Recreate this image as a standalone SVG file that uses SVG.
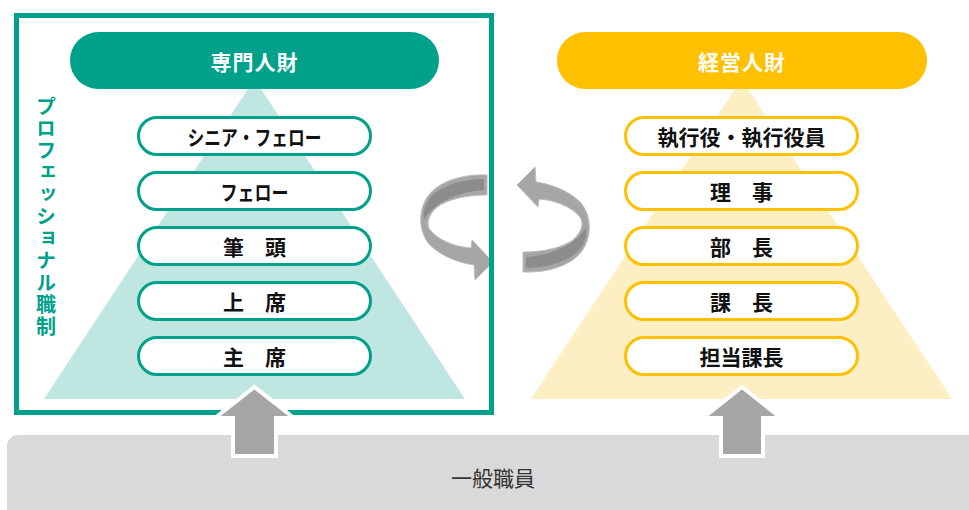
<svg xmlns="http://www.w3.org/2000/svg" width="969" height="510" viewBox="0 0 969 510">
<defs>
<style>
.hdr{font-family:"Noto Sans CJK JP","Noto Sans",sans-serif;font-weight:700;font-size:21px;fill:#ffffff;text-anchor:middle;dominant-baseline:central;letter-spacing:1px}
.lbl{font-family:"Noto Sans CJK JP","Noto Sans",sans-serif;font-weight:700;font-size:21px;fill:#111111;text-anchor:middle;dominant-baseline:central}
.gp{fill:#ffffff;stroke:#00a18b;stroke-width:3}
.yp{fill:#ffffff;stroke:#ffc000;stroke-width:3}
.up{fill:#a6a6a6;stroke:#ffffff;stroke-width:4;stroke-linejoin:miter}
.rib{fill:#a6a6a6;stroke:#bdbdbd;stroke-width:1}
.ribd{fill:#8c8c8c}
</style>
<g id="curl">
<path class="rib" d="M487,175 C465,174 440,180 428,196 C418,210 418,232 430,245 C442,257 460,263 474,265 L475,280 L493,262 L472,240 L471,248 C455,247 438,240 430,230 C425,222 430,212 440,205 C455,197 472,195 487,195 Z"/>
<path class="ribd" d="M484,179 C462,179 440,186 430,198 C424,206 423,214 424,220 C428,212 436,205 446,200 C460,193 472,191 484,190 Z"/>
</g>
</defs>
<rect id="base-band" x="7" y="435" width="985" height="100" rx="11" fill="#d9d9d9"/>
<text x="493" y="477" font-family="'Noto Sans CJK JP','Noto Sans',sans-serif" font-size="21" fill="#333333" text-anchor="middle" dominant-baseline="central">一般職員</text>

<polygon id="tri-left" points="254.5,79 465,399 44,399" fill="#c0e6e1"/>
<polygon id="tri-right" points="741.5,79 952,399 531,399" fill="#feeec3"/>

<g id="connectors">
<use href="#curl"/>
<use href="#curl" transform="rotate(180 505 223.5)"/>
</g>

<rect id="frame" x="16.5" y="15.5" width="475" height="397" fill="none" stroke="#00a18b" stroke-width="5"/>

<g id="hdr-senmon">
<rect x="70" y="32" width="369" height="57" rx="28.5" fill="#00a18b"/>
<text class="hdr" x="254.5" y="61">専門人財</text>
</g>
<g id="hdr-keiei">
<rect x="557" y="32" width="370" height="57" rx="28.5" fill="#ffc000"/>
<text class="hdr" x="742" y="61">経営人財</text>
</g>

<text id="vlabel" x="46" y="96" writing-mode="vertical-rl" font-family="'Noto Sans CJK JP','Noto Sans',sans-serif" font-weight="700" font-size="20" letter-spacing="2" fill="#00a18b">プロフェッショナル職制</text>

<g id="g1"><rect class="gp" x="138.5" y="117.5" width="232" height="37" rx="18.5"/><text class="lbl" x="254.5" y="136" textLength="134" lengthAdjust="spacingAndGlyphs">シニア・フェロー</text></g>
<g id="g2"><rect class="gp" x="138.5" y="172.5" width="232" height="37" rx="18.5"/><text class="lbl" x="254.5" y="191" textLength="68" lengthAdjust="spacingAndGlyphs">フェロー</text></g>
<g id="g3"><rect class="gp" x="138.5" y="227.5" width="232" height="37" rx="18.5"/><text class="lbl" x="254.5" y="246">筆　頭</text></g>
<g id="g4"><rect class="gp" x="138.5" y="282.5" width="232" height="37" rx="18.5"/><text class="lbl" x="254.5" y="301">上　席</text></g>
<g id="g5"><rect class="gp" x="138.5" y="337.5" width="232" height="37" rx="18.5"/><text class="lbl" x="254.5" y="356">主　席</text></g>

<g id="y1"><rect class="yp" x="625.5" y="117.5" width="232" height="37" rx="18.5"/><text class="lbl" x="741.5" y="136">執行役・執行役員</text></g>
<g id="y2"><rect class="yp" x="625.5" y="172.5" width="232" height="37" rx="18.5"/><text class="lbl" x="741.5" y="191">理　事</text></g>
<g id="y3"><rect class="yp" x="625.5" y="227.5" width="232" height="37" rx="18.5"/><text class="lbl" x="741.5" y="246">部　長</text></g>
<g id="y4"><rect class="yp" x="625.5" y="282.5" width="232" height="37" rx="18.5"/><text class="lbl" x="741.5" y="301">課　長</text></g>
<g id="y5"><rect class="yp" x="625.5" y="337.5" width="232" height="37" rx="18.5"/><text class="lbl" x="741.5" y="356">担当課長</text></g>

<g id="up-arrows">
<polygon class="up" points="254.5,387 294,418 276,418 276,456 233,456 233,418 215,418"/>
<polygon class="up" points="742,387 781,418 763,418 763,456 721,456 721,418 703,418"/>
</g>
</svg>
